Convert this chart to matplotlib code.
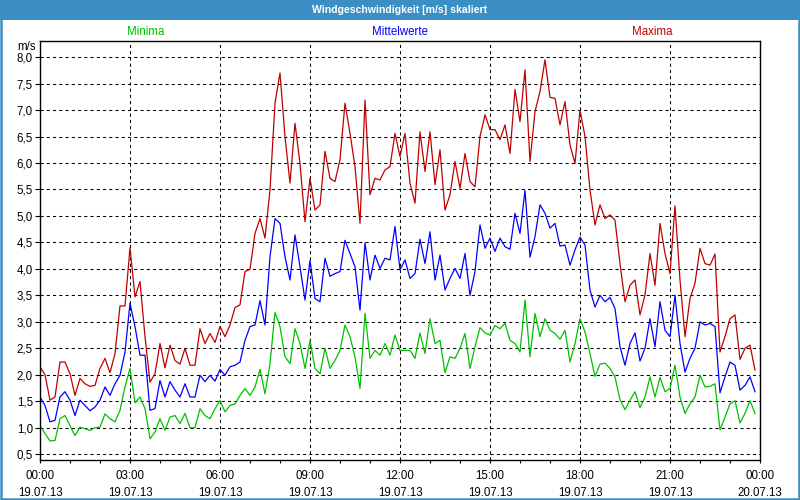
import numpy as np
import matplotlib
matplotlib.use("Agg")
import matplotlib.pyplot as plt
from matplotlib.patches import Rectangle
from matplotlib.ticker import FixedLocator, FuncFormatter, MultipleLocator

plt.rcParams['font.family'] = ['Liberation Sans', 'DejaVu Sans']

title = "Windgeschwindigkeit [m/s] skaliert"
series_names = ["Minima", "Mittelwerte", "Maxima"]
unit_label = "m/s"
x_tick_labels = ["00:00\n19.07.13", "03:00\n19.07.13", "06:00\n19.07.13", "09:00\n19.07.13",
                 "12:00\n19.07.13", "15:00\n19.07.13", "18:00\n19.07.13", "21:00\n19.07.13",
                 "00:00\n20.07.13"]

maxima = [2.15, 2.0, 1.52, 1.58, 2.24, 2.24, 2.02, 1.61, 1.93, 1.83, 1.78, 1.80, 2.12, 2.31, 2.04, 2.40,
          3.30, 3.30, 4.40, 3.47, 3.76, 2.72, 1.86, 2.02, 2.59, 2.13,
          2.56, 2.27, 2.20, 2.50, 2.18, 2.18, 2.87, 2.59, 2.78, 2.61, 2.91, 2.72, 2.94, 3.27, 3.32, 3.95,
          3.99, 4.67, 4.95,
          4.58, 5.49, 7.13, 7.70, 6.50, 5.62, 6.75, 5.99, 4.89, 5.71, 5.11, 5.21, 6.22, 5.71, 5.65, 6.06,
          7.13, 6.56, 5.93, 4.86,
          7.19, 5.40, 5.71, 5.68, 5.87, 5.93, 6.56, 6.12, 6.56, 5.62, 5.24, 6.59, 5.84, 6.59, 5.59, 6.25,
          5.11, 5.40, 6.03, 5.52,
          6.18, 5.65, 5.55, 6.50, 6.91, 6.63, 6.63, 6.44, 6.72, 6.18, 7.39, 6.78, 7.76, 6.03, 6.97, 7.35,
          7.95, 7.24, 7.22, 6.72,
          7.16, 6.34, 5.99, 7.00, 6.50, 5.49, 4.83, 5.21, 4.95, 5.02, 4.92, 4.10, 3.38, 3.69, 3.79, 3.13,
          3.51, 4.29, 3.69, 4.86,
          4.29, 3.91, 5.19, 3.79, 2.72, 3.44, 3.73, 4.39, 4.10, 4.07, 4.28, 2.43, 2.72, 3.06, 3.13, 2.29,
          2.50, 2.56, 2.09]

mittelwerte = [1.58, 1.42, 1.11, 1.14, 1.58, 1.68, 1.52, 1.23, 1.52, 1.42, 1.32, 1.39, 1.52, 1.77, 1.61,
               1.83, 1.99, 2.43, 3.35, 2.91, 2.37, 2.37, 1.33, 1.36, 1.89, 1.58,
               1.87, 1.71, 1.58, 1.83, 1.58, 1.58, 1.99, 1.87, 1.99, 1.88, 2.10, 1.99, 2.15, 2.18, 2.24,
               2.65, 2.91, 2.94, 3.40,
               2.94, 4.23, 4.95, 4.86, 4.23, 3.79, 4.64, 4.04, 3.41, 4.16, 3.44, 3.38, 4.20, 3.86, 3.91,
               3.95, 4.54, 4.29, 4.04, 3.22,
               4.49, 3.79, 4.26, 4.01, 4.20, 4.17, 4.80, 3.98, 4.17, 3.82, 3.91, 4.56, 4.10, 4.70, 3.79,
               4.26, 3.60, 3.82, 4.01, 3.82,
               4.29, 3.50, 3.95, 4.83, 4.39, 4.58, 4.33, 4.58, 4.42, 4.37, 5.05, 4.67, 5.48, 4.22, 4.61,
               5.21, 5.05, 4.77, 4.86, 4.43,
               4.45, 4.07, 4.36, 4.60, 4.45, 3.60, 3.28, 3.50, 3.38, 3.46, 3.25, 2.53, 2.18, 2.59, 2.79,
               2.26, 2.50, 3.06, 2.53, 3.38,
               2.84, 2.72, 3.50, 2.59, 2.05, 2.31, 2.50, 3.00, 2.94, 2.97, 2.91, 1.66, 1.96, 2.24, 2.18,
               1.71, 1.80, 1.96, 1.68]

minima = [1.04, 0.89, 0.75, 0.76, 1.17, 1.23, 1.04, 0.85, 1.01, 0.98, 0.95, 1.00, 1.01, 1.26, 1.17, 1.11,
          1.33, 1.77, 2.12, 1.47, 1.58, 1.36, 0.79, 0.92, 1.17, 0.95,
          1.20, 1.23, 1.08, 1.27, 1.00, 1.00, 1.36, 1.23, 1.17, 1.36, 1.51, 1.30, 1.42, 1.45, 1.61, 1.74,
          1.61, 1.77, 2.10,
          1.64, 2.21, 3.18, 2.91, 2.34, 2.21, 2.87, 2.59, 2.12, 2.65, 2.12, 2.02, 2.50, 2.12, 2.27, 2.46,
          2.94, 2.72, 2.34, 1.74,
          3.16, 2.31, 2.46, 2.37, 2.59, 2.37, 2.75, 2.46, 2.46, 2.46, 2.31, 2.79, 2.40, 3.06, 2.59, 2.65,
          2.04, 2.34, 2.31, 2.50,
          2.78, 2.12, 2.53, 2.89, 2.79, 2.75, 2.93, 2.87, 2.97, 2.65, 2.59, 2.43, 3.41, 2.34, 3.16, 2.72,
          3.06, 2.84, 2.78, 2.67,
          2.84, 2.24, 2.59, 3.06, 2.81, 2.40, 1.97, 2.20, 2.22, 2.12, 1.96, 1.53, 1.34, 1.52, 1.68, 1.38,
          1.58, 1.96, 1.58, 1.95,
          1.68, 1.74, 2.18, 1.58, 1.27, 1.45, 1.58, 1.99, 1.77, 1.78, 1.83, 0.96, 1.20, 1.45, 1.51, 1.09,
          1.27, 1.51, 1.27]

hours = np.arange(len(maxima)) / 6.0  # 10-minute steps

c_min, c_mid, c_max = '#00c000', '#0000ff', '#c00000'
bar_blue = '#3b8fc5'

fig = plt.figure(figsize=(8, 5), dpi=100, facecolor='white')
W, H = 800.0, 500.0

# title bar and window border
fig.patches.append(Rectangle((0, 1 - 20 / H), 1, 20 / H, transform=fig.transFigure,
                             facecolor=bar_blue, edgecolor='none', zorder=0))
fig.patches.append(Rectangle((0.5 / W, 1 / H), 1 - 1.5 / W, 1 - 1.5 / H, transform=fig.transFigure,
                             facecolor='none', edgecolor=bar_blue, linewidth=1.8, zorder=0))
fig.text(0.5, 1 - 10 / H, title, color='white', fontweight='bold', fontsize=7.6,
         ha='center', va='center')

ax = fig.add_axes([40 / W, 1 - 460 / H, 720 / W, 419.3 / H])
ax.plot(hours, maxima, color=c_max, lw=0.9)
ax.plot(hours, mittelwerte, color=c_mid, lw=0.9)
ax.plot(hours, minima, color=c_min, lw=0.9)

ax.set_xlim(0, 24)
ax.set_ylim(0.39, 8.31)

ax.xaxis.set_major_locator(FixedLocator(np.arange(0, 25, 3)))
ax.xaxis.set_minor_locator(MultipleLocator(1))
ax.set_xticklabels(x_tick_labels, linespacing=1.55)
ax.yaxis.set_major_locator(FixedLocator(np.arange(0.5, 8.01, 0.5)))
ax.yaxis.set_major_formatter(FuncFormatter(lambda v, p: f"{v:.1f}".replace('.', ',')))

ax.tick_params(axis='x', which='major', length=2.5, width=0.8, pad=5, labelsize=8.3)
ax.tick_params(axis='x', which='minor', length=2.5, width=0.8)
ax.tick_params(axis='y', which='major', length=3.6, width=0.8, pad=1.5, labelsize=8.3)

ax.grid(True, which='major', color='black', linestyle=(0, (3, 3)), linewidth=0.75)
for s in ax.spines.values():
    s.set_linewidth(1.0)
    s.set_color('black')

# series labels above the plot
fig.text(146 / W, 1 - 32 / H, series_names[0], color=c_min, fontsize=8.3, ha='center', va='center')
fig.text(400 / W, 1 - 32 / H, series_names[1], color=c_mid, fontsize=8.3, ha='center', va='center')
fig.text(652 / W, 1 - 32 / H, series_names[2], color=c_max, fontsize=8.3, ha='center', va='center')
fig.text(36 / W, 1 - 46.5 / H, unit_label, color='black', fontsize=8.3, ha='right', va='center')

fig.savefig('out.png', dpi=100, facecolor='white')
